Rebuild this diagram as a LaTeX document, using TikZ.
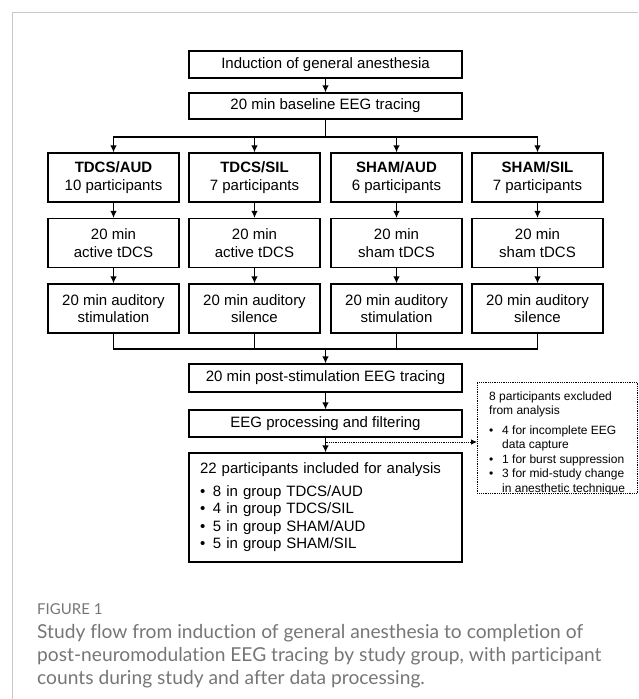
\documentclass[tikz,border=0pt]{standalone}
\usepackage{fontspec}
\setmainfont{Liberation Sans}
\newfontfamily\capfont[Ligatures=NoCommon]{Lato}
\usetikzlibrary{arrows.meta}
\definecolor{framegray}{RGB}{200,200,200}
\definecolor{capgray}{RGB}{118,118,118}
\def\midx{325.5}
\newcommand{\bul}{\makebox[13pt][l]{\textbullet}}
\newcommand{\bulsmall}{\makebox[13pt][l]{\textbullet}}

\begin{document}
\begin{tikzpicture}[x=1pt,y=-1pt,
    box/.style={draw,line width=1.2pt,align=center,inner sep=0pt,font=\fontsize{15}{17.5}\selectfont},
    wide/.style={box,minimum width=273pt},
    col/.style={box,minimum width=131pt,minimum height=49pt},
    flow/.style={->,>={Latex[length=7pt,width=6.5pt]},line width=1.2pt},
    dotflow/.style={->,>={Latex[length=6pt,width=5.5pt]},densely dotted,line width=0.8pt}]
        %
        \useasboundingbox (0,0) rectangle (638,699);
        \draw[framegray,line width=1pt] (12,699) -- (12,12) -- (638,12); % figure frame
        %
        \node[wide,minimum height=27pt] (induct) at (\midx,64.5) {Induction of general anesthesia};
        \node[wide,minimum height=26pt] (base) at (\midx,106) {20 min baseline EEG tracing};
        \draw[flow] (induct) -- (base);
        %
        \coordinate (split) at (\midx,137);
        \coordinate (join) at (\midx,349);
        \foreach \x/\g/\grp/\n/\tdcs/\stim in {113.5/ta/{TDCS/AUD}/10/active/stimulation,
                                               254.5/ts/{TDCS/SIL}/7/active/silence,
                                               396.5/sa/{SHAM/AUD}/6/sham/stimulation,
                                               537.5/ss/{SHAM/SIL}/7/sham/silence}{
          \node[col] (grp\g) at (\x,177.5) {\textbf{\grp}\\\n\ participants};
          \node[col] (tdcs\g) at (\x,243) {20 min\\\tdcs\ tDCS};
          \node[col] (aud\g) at (\x,308.5) {20 min auditory\\\stim};
          \draw[flow] (base) -- (split) -| (grp\g.north);
          \draw[flow] (grp\g) -- (tdcs\g);
          \draw[flow] (tdcs\g) -- (aud\g);
          \draw[line width=1.2pt] (aud\g.south) |- (join);
        }
        %
        \node[wide,minimum height=28pt] (post) at (\midx,378) {20 min post-stimulation EEG tracing};
        \node[wide,minimum height=27pt] (proc) at (\midx,423.5) {EEG processing and filtering};
        \node[wide,minimum height=109pt,align=left,text width=251pt,inner xsep=11pt] (incl) at (\midx,507.5)
          {22 participants included for analysis\\[5pt]
           \bul 8 in group TDCS/AUD\\\bul 4 in group TDCS/SIL\\\bul 5 in group SHAM/AUD\\\bul 5 in group SHAM/SIL};
        \draw[flow] (join) -- (post);
        \draw[flow] (post) -- (proc);
        \draw[flow] (proc) -- (incl);
        %
        \coordinate (tap) at (\midx,442);
        \node[draw,densely dotted,line width=0.8pt,minimum width=160pt,minimum height=111pt,
              inner sep=0pt,anchor=north west] (excl) at (477,382) {};
        \node[anchor=north west,align=left,inner sep=0pt,font=\fontsize{12}{14.5}\selectfont] (excltxt) at (489,391.5)
          {8 participants excluded\\[-0.5pt]from analysis\\[5.5pt]
           \bulsmall 4 for incomplete EEG\\\hphantom{\bulsmall}data capture\\
           \bulsmall 1 for burst suppression\\\bulsmall 3 for mid-study change\\
           \hphantom{\bulsmall}in anesthetic technique};
        \draw[dotflow] (tap) -- (tap -| excl.west);
        %
        \node[anchor=west,inner sep=0pt,text=capgray,font=\capfont\fontsize{15}{17}\selectfont] (fig) at (37,609) {FIGURE 1};
        \node[anchor=north west,align=left,inner sep=0pt,text=capgray,font=\capfont\fontsize{19.2}{23}\selectfont] (cap) at (37,624.5)
          {Study flow from induction of general anesthesia to completion of\\
           post-neuromodulation EEG tracing by study group, with participant\\
           counts during study and after data processing.};
      \end{tikzpicture}
\end{document}
